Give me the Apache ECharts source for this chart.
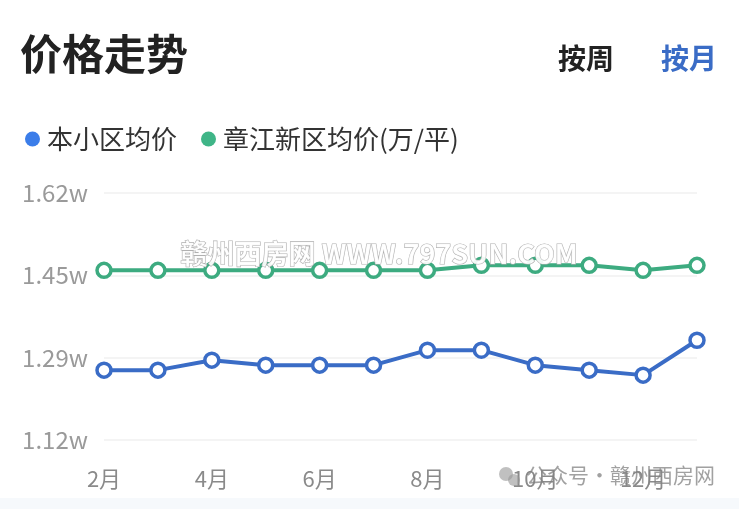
<!DOCTYPE html>
<html>
<head>
<meta charset="utf-8">
<script src="https://cdn.jsdelivr.net/npm/echarts@6/dist/echarts.min.js"></script>
<style>
html,body{margin:0;padding:0;background:#fff;}
#c{width:739px;height:509px;}
</style>
</head>
<body>
<div id="c"></div>
<script>
const months = ['2月','3月','4月','5月','6月','7月','8月','9月','10月','11月','12月','1月'];
const communityPrice = [1.26,1.26,1.28,1.27,1.27,1.27,1.30,1.30,1.27,1.26,1.25,1.32];
const districtPrice = [1.46,1.46,1.46,1.46,1.46,1.46,1.46,1.47,1.47,1.47,1.46,1.47];
const yTickLabels = ['1.12w','1.29w','1.45w','1.62w'];
const seriesNames = ['本小区均价','章江新区均价(万/平)'];

const FONT = '"Noto Sans CJK SC","Noto Sans",sans-serif';
const BLUE = '#3a6cc6', GREEN = '#3dab80';
const chart = echarts.init(document.getElementById('c'), null, {renderer:'canvas'});
chart.setOption({
  backgroundColor:'#fff',
  animation:false,
  title:{
    text:'价格走势', left:15, top:28,
    textStyle:{fontFamily:FONT, fontSize:42, fontWeight:'bold', color:'#222'}
  },
  legend:{
    left:20, top:121, itemWidth:15, itemHeight:15, itemGap:24, icon:'circle',
    data:[{name:seriesNames[0], itemStyle:{color:'#3b7de9', borderWidth:0}},{name:seriesNames[1], itemStyle:{color:'#3fb587', borderWidth:0}}],
    textStyle:{fontFamily:FONT, fontSize:26, color:'#333', padding:[0,0,0,2]}
  },
  grid:{left:104, right:42, top:193, bottom:69},
  xAxis:{
    type:'category', data:months, boundaryGap:false,
    axisLine:{show:false}, axisTick:{show:false},
    axisLabel:{interval:1, margin:28, fontFamily:FONT, fontSize:22, color:'#8a8a8a'}
  },
  yAxis:{
    type:'value', min:1.12, max:1.615, interval:0.165,
    axisLine:{show:false}, axisTick:{show:false},
    splitLine:{lineStyle:{color:'#f1f1f1', width:1.5}},
    axisLabel:{margin:16, fontFamily:FONT, fontSize:24, color:'#9a9a9a',
      formatter:function(v, i){ return yTickLabels[i] !== undefined ? yTickLabels[i] : ''; }}
  },
  series:[
    {name:seriesNames[0], type:'line', data:communityPrice, symbol:'circle', symbolSize:14,
     lineStyle:{width:4, color:BLUE}, itemStyle:{color:'#fff', borderColor:BLUE, borderWidth:3.5}, z:3},
    {name:seriesNames[1], type:'line', data:districtPrice, symbol:'circle', symbolSize:14,
     lineStyle:{width:4, color:GREEN}, itemStyle:{color:'#fff', borderColor:GREEN, borderWidth:3.5}, z:3}
  ],
  graphic:[
    {type:'rect', left:0, top:498, shape:{width:739, height:11}, style:{fill:'#f6f9fc'}, z:-1},
    {type:'text', left:558, top:44, style:{text:'按周', fontFamily:FONT, fontSize:28, fontWeight:'bold', fill:'#222'}},
    {type:'text', left:661, top:44, style:{text:'按月', fontFamily:FONT, fontSize:28, fontWeight:'bold', fill:BLUE}},
    {type:'text', left:180, top:240, z:10, style:{text:'赣州西房网 WWW.797SUN.COM', fontFamily:FONT, fontSize:27, fontWeight:'bold', fill:'rgba(255,255,255,0.92)', stroke:'#b0b0b0', lineWidth:1.2}},
    {type:'circle', shape:{cx:506, cy:474, r:7}, style:{fill:'rgba(150,150,150,0.6)'}, z:10},
    {type:'circle', shape:{cx:514, cy:480, r:6}, style:{fill:'rgba(150,150,150,0.6)'}, z:10},
    {type:'text', left:526, top:465, z:10, style:{text:'公众号·赣州西房网', fontFamily:FONT, fontSize:21, fill:'rgba(130,130,130,0.75)'}}
  ]
});
</script>
</body>
</html>
